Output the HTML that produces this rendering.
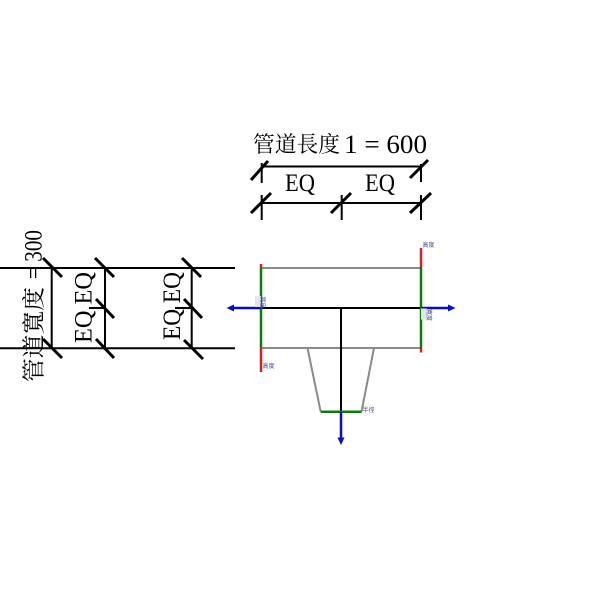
<!DOCTYPE html>
<html>
<head>
<meta charset="utf-8">
<style>
html,body{margin:0;padding:0;background:#fff;}
svg{display:block;}
.ser{font-family:"Liberation Serif","Noto Serif CJK SC","Noto Sans CJK SC",serif;}
.cjk{font-family:"Noto Serif CJK SC","Noto Serif CJK SC","Liberation Serif",serif;}
.lbl{font-family:"Liberation Sans","Noto Sans CJK SC",sans-serif;font-size:6px;fill:#4a4a8a;}
</style>
</head>
<body>
<svg width="600" height="600" viewBox="0 0 600 600" xmlns="http://www.w3.org/2000/svg">
<rect width="600" height="600" fill="#fff"/>

<!-- ===== Top dimension ===== -->
<text class="cjk" x="253" y="152" font-size="22" textLength="87" lengthAdjust="spacingAndGlyphs">管道長度</text>
<text class="ser" x="344" y="153" font-size="26" textLength="83" lengthAdjust="spacingAndGlyphs">1 = 600</text>

<g stroke="#000" stroke-width="2" fill="none">
  <line x1="261.7" y1="166.5" x2="421.7" y2="166.5"/>
  <line x1="261.7" y1="163" x2="261.7" y2="183"/>
  <line x1="421" y1="164" x2="421" y2="182"/>
  <line x1="261.7" y1="203" x2="421.7" y2="203"/>
  <line x1="261.7" y1="195" x2="261.7" y2="220"/>
  <line x1="341.7" y1="195" x2="341.7" y2="220"/>
  <line x1="421" y1="195" x2="421" y2="220"/>
</g>
<g stroke="#000" stroke-width="3" stroke-linecap="butt">
  <line x1="251" y1="180" x2="268" y2="161"/>
  <line x1="410" y1="178" x2="428" y2="160"/>
  <line x1="251" y1="213" x2="271" y2="193"/>
  <line x1="331" y1="213" x2="351" y2="193"/>
  <line x1="410" y1="213" x2="431" y2="193"/>
</g>
<text class="ser" x="285" y="191" font-size="25" textLength="30" lengthAdjust="spacingAndGlyphs">EQ</text>
<text class="ser" x="365" y="191" font-size="25" textLength="30" lengthAdjust="spacingAndGlyphs">EQ</text>

<!-- ===== Left dimension ===== -->
<g stroke="#000" stroke-width="2" fill="none">
  <line x1="0" y1="268" x2="235" y2="268"/>
  <line x1="0" y1="348.3" x2="235" y2="348.3"/>
  <line x1="51.7" y1="268" x2="51.7" y2="348.3"/>
  <line x1="105" y1="268" x2="105" y2="348.3"/>
  <line x1="191.7" y1="268" x2="191.7" y2="348.3"/>
  <line x1="89" y1="308" x2="105" y2="308"/>
  <line x1="175" y1="308" x2="191.7" y2="308"/>
</g>
<g stroke="#000" stroke-width="3">
  <line x1="43" y1="258" x2="62" y2="277"/>
  <line x1="43" y1="339" x2="62" y2="358"/>
  <line x1="95" y1="258" x2="114" y2="277"/>
  <line x1="96" y1="299" x2="114" y2="318"/>
  <line x1="96" y1="339" x2="114" y2="358"/>
  <line x1="182" y1="258" x2="201" y2="277"/>
  <line x1="184" y1="299" x2="202" y2="318"/>
  <line x1="184" y1="340" x2="203" y2="359"/>
</g>
<g transform="translate(41.5,382) rotate(-90)">
  <text class="cjk" x="0" y="0" font-size="23" textLength="95" lengthAdjust="spacingAndGlyphs">管道寬度</text>
  <text class="ser" x="103" y="0" font-size="25" textLength="49" lengthAdjust="spacingAndGlyphs">= 300</text>
</g>
<g transform="translate(91.5,343) rotate(-90)">
  <text class="ser" x="0" y="0" font-size="25" textLength="71" lengthAdjust="spacingAndGlyphs">EQ EQ</text>
</g>
<g transform="translate(180,340) rotate(-90)">
  <text class="ser" x="0" y="0" font-size="25" textLength="68" lengthAdjust="spacingAndGlyphs">EQ EQ</text>
</g>

<!-- ===== Pipe fitting ===== -->
<g stroke="#8a8a8a" stroke-width="2" fill="none">
  <line x1="261" y1="268" x2="421" y2="268"/>
  <line x1="261" y1="348" x2="421" y2="348"/>
  <line x1="307.5" y1="348" x2="320.7" y2="411.7"/>
  <line x1="374" y1="348" x2="361.5" y2="411.7"/>
</g>
<g stroke="#000" stroke-width="2" fill="none">
  <line x1="261" y1="308" x2="421" y2="308"/>
  <line x1="341" y1="308" x2="341" y2="411.7"/>
</g>
<g stroke="#107a10" stroke-width="2.5" fill="none">
  <line x1="261" y1="268" x2="261" y2="348"/>
  <line x1="421" y1="268" x2="421" y2="348"/>
  <line x1="320.7" y1="411.7" x2="361.5" y2="411.7"/>
</g>
<g stroke="#d42020" stroke-width="2.5" fill="none">
  <line x1="261" y1="264" x2="261" y2="268"/>
  <line x1="261" y1="348" x2="261" y2="372"/>
  <line x1="421" y1="248" x2="421" y2="268"/>
  <line x1="421" y1="348" x2="421" y2="352.5"/>
</g>
<!-- blue arrows -->
<g stroke="#0b0bc0" stroke-width="2.5" fill="none">
  <line x1="261" y1="308" x2="232" y2="308"/>
  <line x1="421" y1="308" x2="450" y2="308"/>
  <line x1="341" y1="411.7" x2="341" y2="439"/>
</g>
<g fill="#0b0bc0">
  <polygon points="226.5,308 234,304.5 234,311.5"/>
  <polygon points="455.5,308 448,304.5 448,311.5"/>
  <polygon points="341,445 337.5,437.5 344.5,437.5"/>
</g>

<!-- small labels -->
<text class="lbl" x="422.5" y="247">高度</text>
<text class="lbl" x="262.5" y="368">高度</text>
<text class="lbl" x="362.5" y="412">半徑</text>
<rect x="255" y="296" width="6" height="11" fill="#e4e4ee"/>
<g transform="translate(260.5,296.5) rotate(90)"><text class="lbl" x="0" y="0">寬度</text></g>
<rect x="421" y="308.5" width="6" height="11" fill="#e4e4ee"/>
<g transform="translate(421.5,309) rotate(90)"><text class="lbl" x="0" y="-0.5" transform="translate(0,-5)">寬度</text></g>
</svg>
</body>
</html>
